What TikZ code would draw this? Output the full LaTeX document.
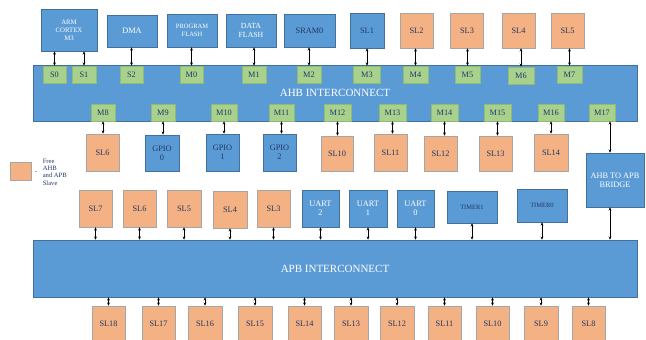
\documentclass[tikz,border=0pt]{standalone}
\usepackage{fontspec}
\setmainfont{Liberation Serif}
\usetikzlibrary{arrows.meta}
\definecolor{bblue}{HTML}{5B9BD5}
\definecolor{bborder}{HTML}{41719C}
\definecolor{oorange}{HTML}{F4B183}
\definecolor{oborder}{HTML}{A6A6A6}
\definecolor{ggreen}{HTML}{A9D18E}
\definecolor{gborder}{HTML}{8FBC72}
\definecolor{navy}{HTML}{1F3864}
\tikzset{
  base/.style={inner sep=0pt, align=center, font=\fontsize{8.3}{9.3}\selectfont, line width=0.6pt},
  bluebox/.style={base, fill=bblue, draw=bborder},
  bluew/.style={bluebox, text=white},
  blued/.style={bluebox, text=navy},
  orbox/.style={base, fill=oorange, draw=oborder, text=navy, minimum width=33pt, minimum height=37pt},
  grbox/.style={base, fill=ggreen, draw=gborder, text=navy, minimum width=24pt, minimum height=17pt},
  bus/.style={base, fill=bblue, draw=bborder, text=white, font=\fontsize{11}{12}\selectfont},
  arr/.style={{Stealth[length=3.2pt,width=2.8pt]}-{Stealth[length=3.2pt,width=2.8pt]}, line width=0.6pt, black},
}
\begin{document}
\begin{tikzpicture}[x=1pt,y=-1pt]
\useasboundingbox (0,0) rectangle (646,340);
% buses
\node[bus, minimum width=604pt, minimum height=56pt] (ahb) at (335,93) {AHB INTERCONNECT};
\node[bus, minimum width=604pt, minimum height=57pt] (apb) at (335,268.5) {APB INTERCONNECT};
% top masters / slaves
\node[bluew, minimum width=56pt, minimum height=42pt, font=\fontsize{6.8}{7.8}\selectfont] (arm) at (69,30) {ARM\\CORTEX\\M3};
\node[bluew, minimum width=50pt, minimum height=32pt] (dma) at (132,31) {DMA};
\node[bluew, minimum width=50pt, minimum height=33pt, font=\fontsize{6.5}{7.7}\selectfont] (pflash) at (192,30.5) {PROGRAM\\FLASH};
\node[bluew, minimum width=50pt, minimum height=33pt, font=\fontsize{7.8}{8.8}\selectfont] (dflash) at (251,30.5) {DATA\\FLASH};
\node[blued, minimum width=51pt, minimum height=33pt] (sram) at (309.5,30.5) {SRAM0};
\node[blued, minimum width=34pt, minimum height=35pt] (sl1) at (367,30.5) {SL1};
\node[orbox, minimum height=35pt] (sl2) at (416.5,30.5) {SL2};
\node[orbox, minimum height=35pt] (sl3) at (467,30.5) {SL3};
\node[orbox, minimum height=35pt] (sl4) at (518.5,30.5) {SL4};
\node[orbox, minimum height=35pt] (sl5) at (567.5,30.5) {SL5};
% AHB top ports
\node[grbox, minimum width=23pt] (s0) at (54.5,74.5) {S0};
\node[grbox] (s1) at (84,74.5) {S1};
\node[grbox, minimum width=23pt] (s2) at (131.5,74.5) {S2};
\node[grbox, minimum width=23pt] (m0) at (191.5,74.5) {M0};
\node[grbox] (m1) at (254,74.5) {M1};
\node[grbox] (m2) at (309,74.5) {M2};
\node[grbox, minimum width=27pt] (m3) at (367,74.5) {M3};
\node[grbox, minimum width=25pt] (m4) at (415.5,74.5) {M4};
\node[grbox, minimum width=25pt] (m5) at (467.5,74.5) {M5};
\node[grbox, minimum width=26pt] (m6) at (521,75.5) {M6};
\node[grbox, minimum width=25pt] (m7) at (569.5,74.5) {M7};
% AHB bottom ports
\node[grbox] (m8) at (103,112.5) {M8};
\node[grbox] (m9) at (163,112.5) {M9};
\node[grbox, minimum width=26pt] (m10) at (224,112.5) {M10};
\node[grbox, minimum width=25pt] (m11) at (281.5,112.5) {M11};
\node[grbox, minimum width=27pt] (m12) at (337.5,112.5) {M12};
\node[grbox, minimum width=27pt] (m13) at (392.5,112.5) {M13};
\node[grbox, minimum width=27pt] (m14) at (444.5,112.5) {M14};
\node[grbox, minimum width=27pt] (m15) at (497.5,112.5) {M15};
\node[grbox, minimum width=26pt] (m16) at (551,112.5) {M16};
\node[grbox, minimum width=26pt] (m17) at (602,112.5) {M17};
% AHB slaves
\node[orbox] (asl6) at (102.5,152.5) {SL6};
\node[blued, minimum width=34pt, minimum height=36pt] (gpio0) at (162,153) {GPIO\\0};
\node[blued, minimum width=33pt, minimum height=37pt] (gpio1) at (222.5,152.5) {GPIO\\1};
\node[blued, minimum width=33pt, minimum height=37pt] (gpio2) at (279.5,152.5) {GPIO\\2};
\node[orbox, minimum width=32pt, minimum height=35pt] (asl10) at (337,153.5) {SL10};
\node[orbox] (asl11) at (390.5,152.5) {SL11};
\node[orbox, minimum height=35pt] (asl12) at (440.5,153.5) {SL12};
\node[orbox, minimum height=35pt] (asl13) at (495.5,153.5) {SL13};
\node[orbox, minimum width=34pt] (asl14) at (551,152.5) {SL14};
\node[bluew, minimum width=58pt, minimum height=54pt] (bridge) at (615,180) {AHB TO APB\\BRIDGE};
% legend
\node[orbox, minimum width=21pt, minimum height=18pt] (leg) at (20.5,171) {};
\node[base, text=navy, font=\fontsize{6.5}{7.4}\selectfont] (legdash) at (36,173) {-};
\node[base, anchor=west, align=left, text=navy, font=\fontsize{6.6}{7.4}\selectfont] (legtext) at (42.5,172) {Free\\AHB\\and APB\\Slave};
% APB top slaves
\node[orbox] (psl7) at (95.5,208.5) {SL7};
\node[orbox] (psl6) at (139.5,208.5) {SL6};
\node[orbox, minimum width=34pt] (psl5) at (184,208.5) {SL5};
\node[orbox, minimum width=34pt] (psl4) at (230,209.5) {SL4};
\node[orbox] (psl3) at (273.5,208.5) {SL3};
\node[bluew, minimum width=37pt, minimum height=37pt] (uart2) at (320.5,208.5) {UART\\2};
\node[bluew, minimum width=38pt, minimum height=37pt] (uart1) at (368,208.5) {UART\\1};
\node[bluew, minimum width=37pt, minimum height=37pt] (uart0) at (415.5,208.5) {UART\\0};
\node[blued, minimum width=50pt, minimum height=32pt, font=\fontsize{6.5}{7}\selectfont] (timer1) at (472,207) {TIMER1};
\node[blued, minimum width=50pt, minimum height=33pt, font=\fontsize{6.5}{7}\selectfont] (timer0) at (542,205.5) {TIMER0};
% APB bottom slaves
\node[orbox, minimum height=36pt] (b18) at (108.5,324) {SL18};
\node[orbox, minimum height=36pt] (b17) at (158.5,324) {SL17};
\node[orbox, minimum width=34pt, minimum height=36pt] (b16) at (205,324) {SL16};
\node[orbox, minimum width=34pt, minimum height=36pt] (b15) at (255,324) {SL15};
\node[orbox, minimum height=36pt] (b14) at (304.5,324) {SL14};
\node[orbox, minimum width=34pt, minimum height=36pt] (b13) at (351,324) {SL13};
\node[orbox, minimum width=34pt, minimum height=36pt] (b12) at (397,324) {SL12};
\node[orbox, minimum height=36pt] (b11) at (444.5,324) {SL11};
\node[orbox, minimum height=36pt] (b10) at (492.5,324) {SL10};
\node[orbox, minimum width=34pt, minimum height=36pt] (b9) at (541,324) {SL9};
\node[orbox, minimum height=36pt] (b8) at (588.5,324) {SL8};
% connectors: top
\foreach \p/\q in {s0/arm, s1/arm, s2/dma, m0/pflash, m1/dflash, m2/sram, m3/sl1, m4/sl2, m5/sl3, m6/sl4, m7/sl5}
  \draw[arr] (\p.north) -- (\p.north |- \q.south);
% connectors: AHB bottom
\foreach \p/\q in {m8/asl6, m9/gpio0, m10/gpio1, m11/gpio2, m12/asl10, m13/asl11, m14/asl12, m15/asl13, m16/asl14}
  \draw[arr] (\p.south) -- (\p.south |- \q.north);
\draw[arr] ([xshift=-5pt]bridge.north |- m17.south) -- ([xshift=-5pt]bridge.north);
% connectors: APB top
\foreach \q in {psl7, psl6, psl5, psl4, psl3, uart2, uart1, uart0, timer1, timer0}
  \draw[arr] (\q.south) -- (\q.south |- apb.north);
\draw[arr] ([xshift=-5pt]bridge.south) -- ([xshift=-5pt]bridge.south |- apb.north);
% connectors: APB bottom
\foreach \q in {b18, b17, b16, b15, b14, b13, b12, b11, b10, b9, b8}
  \draw[arr] (\q.north |- apb.south) -- (\q.north);
\end{tikzpicture}
\end{document}
